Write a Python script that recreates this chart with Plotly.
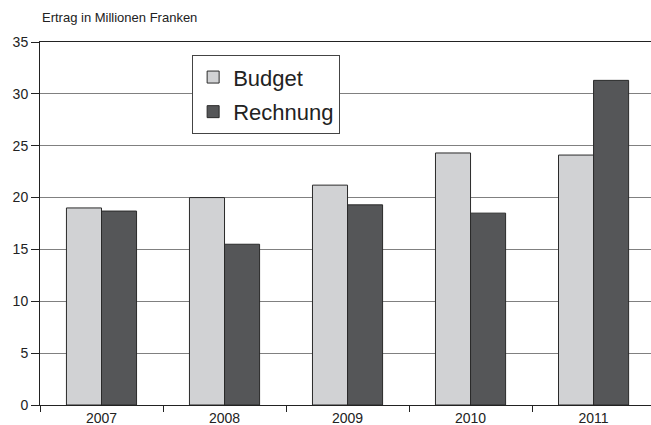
import plotly.graph_objects as go

years = ["2007", "2008", "2009", "2010", "2011"]
budget = [19.0, 20.0, 21.2, 24.3, 24.1]
rechnung = [18.7, 15.5, 19.3, 18.5, 31.3]
y_ticks = [0, 5, 10, 15, 20, 25, 30, 35]

FONT = "Liberation Sans, Arial, Helvetica, sans-serif"

fig = go.Figure()
fig.add_trace(go.Bar(
    x=years, y=budget, name="Budget", legendgroup="a",
    marker=dict(color="#d1d2d4", line=dict(color="#2a2a2a", width=1)),
))
fig.add_trace(go.Bar(
    x=years, y=rechnung, name="Rechnung", legendgroup="b",
    marker=dict(color="#555658", line=dict(color="#2a2a2a", width=1)),
))

fig.update_layout(
    width=651, height=425,
    margin=dict(l=40, r=0, t=42, b=20),
    paper_bgcolor="white", plot_bgcolor="white",
    barmode="group", bargap=0.43, bargroupgap=0,
    font=dict(family=FONT, size=14, color="#222"),
    legend=dict(
        x=0.249, y=0.9635, xanchor="left", yanchor="top",
        bgcolor="white", bordercolor="#444", borderwidth=1,
        font=dict(family=FONT, size=22, color="#222"),
        traceorder="grouped", tracegroupgap=3,
    ),
    showlegend=True,
    annotations=[dict(
        text="Ertrag in Millionen Franken", xref="paper", yref="paper",
        x=0, y=1, xanchor="left", yanchor="bottom", yshift=15, showarrow=False,
        font=dict(family=FONT, size=13, color="#222"),
    )],
)

fig.update_xaxes(
    type="category", range=[-0.5, 4.467], tickson="boundaries",
    ticks="outside", ticklen=6, tickcolor="#222", tickwidth=1,
    showline=True, linecolor="#222", linewidth=1, mirror=True,
    showgrid=False, automargin=False,
    tickfont=dict(family=FONT, size=14, color="#222"),
)
fig.update_yaxes(
    range=[0, 35], tickvals=y_ticks,
    ticks="outside", ticklen=8, tickcolor="#222", tickwidth=1,
    showline=True, linecolor="#222", linewidth=1,
    showgrid=True, gridcolor="#808080", gridwidth=1.4,
    zeroline=False, automargin=False,
    tickfont=dict(family=FONT, size=14, color="#222"),
)

fig.write_html(
    "out.html",
    config={"displayModeBar": False},
    post_script="document.body.style.margin='0';document.documentElement.style.overflow='hidden';",
)
